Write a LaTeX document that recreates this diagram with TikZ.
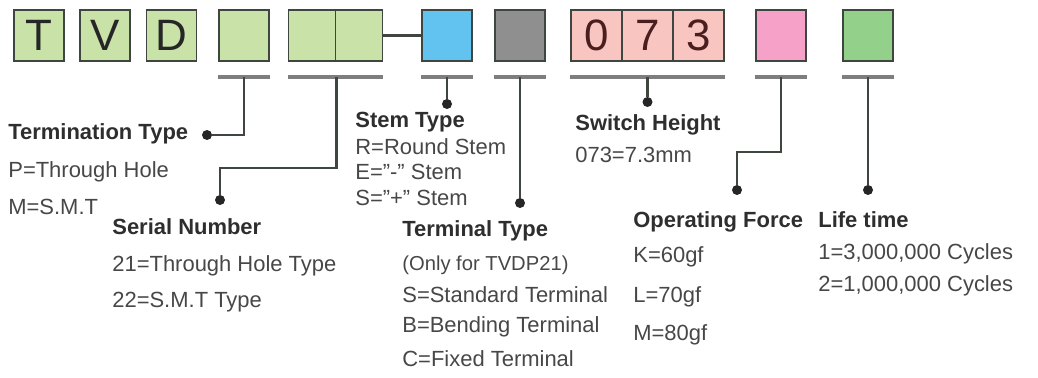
\documentclass[tikz,border=0pt]{standalone}
\usepackage{fontspec}
\setmainfont{Liberation Sans}
\usetikzlibrary{positioning, calc}
\definecolor{boxGreen}{HTML}{C8E2A8}
\definecolor{stemBlue}{HTML}{62C3F0}
\definecolor{termGray}{HTML}{8F8F8F}
\definecolor{heightPink}{HTML}{F8C5C1}
\definecolor{forcePink}{HTML}{F6A1C7}
\definecolor{lifeGreen}{HTML}{93D18A}
\definecolor{edgeGray}{HTML}{3F463F}
\definecolor{digitBrown}{HTML}{4A1E1E}
\definecolor{barGray}{HTML}{7E7E7E}

\begin{document}
\begin{tikzpicture}[x=0.02cm, y=-0.02cm,
    cell/.style={draw=edgeGray, line width=1.1pt, minimum width=1cm,
      minimum height=1.02cm, inner sep=0pt,
      font=\fontsize{25}{25}\selectfont, text=black!85},
    bar/.style={barGray, line width=1.9pt},
    lead/.style={edgeGray, line width=1.3pt},
    dot/.style={circle, fill=black!85, inner sep=0pt, minimum size=0.2cm},
    title/.style={anchor=base west, inner sep=0pt,
      font=\fontsize{12.5}{15}\selectfont\bfseries, text=black!82},
    item/.style={anchor=base west, inner sep=0pt,
      font=\fontsize{12.5}{15}\selectfont, text=black!72}]
    \useasboundingbox (0,0) rectangle (1038,378);
    % part number boxes
    \node[cell, fill=boxGreen] (t) at (39,35.5) {T};
    \node[cell, fill=boxGreen] (v) at (105,35.5) {V};
    \node[cell, fill=boxGreen] (d) at (171.5,35.5) {D};
    \node[cell, fill=boxGreen] (term) at (244,35.5) {};
    \node[cell, fill=boxGreen, minimum width=0.94cm] (serA) at (312,35.5) {};
    \node[cell, fill=boxGreen, minimum width=0.94cm] (serB) at (359,35.5) {};
    \node[cell, fill=stemBlue] (stem) at (447,35.5) {};
    \node[cell, fill=termGray] (tmnl) at (520,35.5) {};
    \node[cell, fill=heightPink, minimum width=1.02cm, text=digitBrown] (h0) at (596.5,35.5) {0};
    \node[cell, fill=heightPink, minimum width=1.02cm, text=digitBrown] (h7) at (647.5,35.5) {7};
    \node[cell, fill=heightPink, minimum width=1.02cm, text=digitBrown] (h3) at (698.5,35.5) {3};
    \node[cell, fill=forcePink] (force) at (781,35.5) {};
    \node[cell, fill=lifeGreen] (life) at (868,35.5) {};
    \draw[lead] (serB.east) -- (stem.west);

    % underlines
    \draw[bar] ([yshift=-0.3cm]term.south west) -- ([yshift=-0.3cm]term.south east);
    \draw[bar] ([yshift=-0.3cm]serA.south west) -- ([yshift=-0.3cm]serB.south east);
    \draw[bar] ([yshift=-0.3cm]stem.south west) -- ([yshift=-0.3cm]stem.south east);
    \draw[bar] ([yshift=-0.3cm]tmnl.south west) -- ([yshift=-0.3cm]tmnl.south east);
    \draw[bar] ([yshift=-0.3cm]h0.south west) -- ([yshift=-0.3cm]h3.south east);
    \draw[bar] ([yshift=-0.3cm]force.south west) -- ([yshift=-0.3cm]force.south east);
    \draw[bar] ([yshift=-0.3cm]life.south west) -- ([yshift=-0.3cm]life.south east);

    % dots and bends
    \node[dot] (dTerm) at (207,135) {};
    \node[dot] (dSer) at (220,200) {};
    \node[dot] (dStem) at (447,104) {};
    \node[dot] (dTmnl) at (520,203) {};
    \node[dot] (dHeight) at (647.5,102) {};
    \node[dot] (dForce) at (737,190) {};
    \node[dot] (dLife) at (868,190) {};
    \coordinate (bSer) at (220,168);
    \coordinate (bForce) at (737,152);

    % leads
    \draw[lead] ([yshift=-0.3cm]term.south) |- (dTerm);
    \draw[lead] ([yshift=-0.3cm]serA.south east) |- (bSer) -- (dSer);
    \draw[lead] ([yshift=-0.3cm]stem.south) -- (dStem);
    \draw[lead] ([yshift=-0.3cm]tmnl.south) -- (dTmnl);
    \draw[lead] ([yshift=-0.3cm]h7.south) -- (dHeight);
    \draw[lead] ([yshift=-0.3cm]force.south) |- (bForce) -- (dForce);
    \draw[lead] ([yshift=-0.3cm]life.south) -- (dLife);

    % termination type
    \node[title] (termT) at (8,140) {Termination Type};
    \node[item] (termP) at (8,178) {P=Through Hole};
    \node[item] (termM) at (8,215) {M=S.M.T};
    % serial number
    \node[title] (serT) at (112,235) {Serial Number};
    \node[item] (ser21) at (112,272) {21=Through Hole Type};
    \node[item] (ser22) at (112,308) {22=S.M.T Type};
    % stem type
    \node[title] (stemT) at (355,128) {Stem Type};
    \node[item] (stemR) at (355,155) {R=Round Stem};
    \node[item] (stemE) at (355,180) {E=”-” Stem};
    \node[item] (stemS) at (355,206) {S=”+” Stem};
    % terminal type
    \node[title] (tmnlT) at (402,237) {Terminal Type};
    \node[item, font=\fontsize{11.5}{14}\selectfont] (tmnlO) at (402,271) {(Only for TVDP21)};
    \node[item] (tmnlS) at (402,302) {S=Standard Terminal};
    \node[item] (tmnlB) at (402,333) {B=Bending Terminal};
    \node[item] (tmnlC) at (402,366) {C=Fixed Terminal};
    % switch height
    \node[title] (heightT) at (575,131) {Switch Height};
    \node[item] (height73) at (575,163) {073=7.3mm};
    % operating force
    \node[title] (forceT) at (633,228) {Operating Force};
    \node[item] (forceK) at (633,263) {K=60gf};
    \node[item] (forceL) at (633,302) {L=70gf};
    \node[item] (forceM) at (633,340) {M=80gf};
    % life time
    \node[title] (lifeT) at (818,228) {Life time};
    \node[item] (life1) at (818,260) {1=3,000,000 Cycles};
    \node[item] (life2) at (818,292) {2=1,000,000 Cycles};
\end{tikzpicture}
\end{document}
